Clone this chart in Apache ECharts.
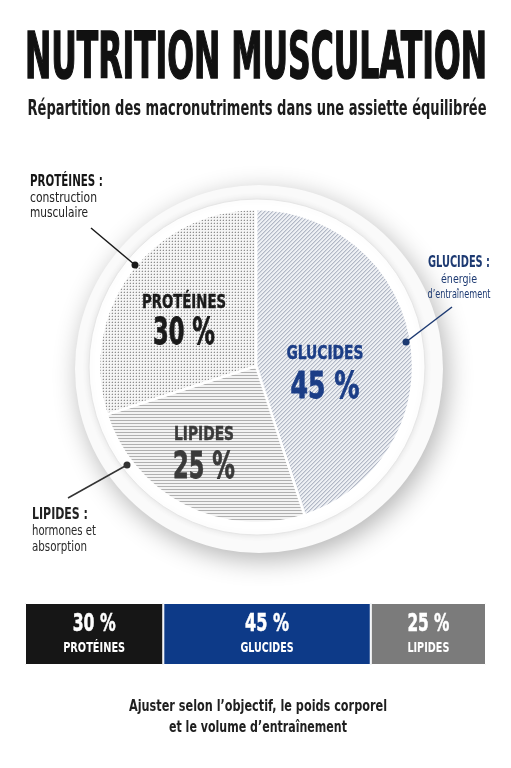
<!DOCTYPE html>
<html>
<head>
<meta charset="utf-8">
<script src="https://cdn.jsdelivr.net/npm/echarts@6/dist/echarts.min.js"></script>
<style>
  html, body { margin: 0; padding: 0; background: #fff; }
  #main { width: 511px; height: 768px; }
</style>
</head>
<body>
<div id="main"></div>
<script>
// données
const pieNames = ['GLUCIDES', 'LIPIDES', 'PROTÉINES']
const pieShares = [45, 25, 30]
const calloutTitles = ['GLUCIDES :', 'LIPIDES :', 'PROTÉINES :']
const calloutLines = [['énergie', 'd’entraînement'], ['hormones et', 'absorption'], ['construction', 'musculaire']]
const barNames = ['PROTÉINES', 'GLUCIDES', 'LIPIDES']
const barShares = [30, 45, 25]
const footerLines = ['Ajuster selon l’objectif, le poids corporel', 'et le volume d’entraînement']

const F = "'Liberation Sans Narrow','DejaVu Sans Condensed','DejaVu Sans',sans-serif"
const NAVY = '#0d3a88'
const INK = '#161616'

// motifs des parts
const pattern = (w, h, bg, draw) => {
  const c = document.createElement('canvas')
  c.width = w
  c.height = h
  const g = c.getContext('2d')
  g.fillStyle = bg
  g.fillRect(0, 0, w, h)
  draw(g)
  return { image: c, repeat: 'repeat' }
}
const px = (g, x, y, col) => { g.fillStyle = col; g.fillRect(x, y, 1, 1) }
const patGlucides = pattern(4, 4, '#eef0f4', g => {
  for (let x = 0; x < 4; x++) {
    for (let y = 0; y < 4; y++) {
      if ((x + y) % 4 === 3) px(g, x, y, '#b2b8c6')
      if ((x + y) % 4 === 0) px(g, x, y, '#d5d9e1')
    }
  }
})
const patLipides = pattern(3, 3, '#f3f3f3', g => {
  for (let x = 0; x < 3; x++) px(g, x, 0, '#b0b0b0')
})
const patProteines = pattern(3, 3, '#f5f5f5', g => {
  px(g, 1, 1, '#8e8e8e')
  px(g, 1, 0, '#d8d8d8')
  px(g, 0, 1, '#d8d8d8')
})
const slicePatterns = [patGlucides, patLipides, patProteines]
const labelColors = ['#1b3d86', '#3a3a3a', '#1a1a1a']
const labelPos = [[325, 354, 388], [204, 435, 468], [184, 303, 334]]
const labelWidths = [[77, 69], [60, 62], [84, 62]]
const barLabelWidths = [[43, 62], [44, 53], [42, 42]]

// texte ajusté à une largeur
const mctx = document.createElement('canvas').getContext('2d')
const txt = (text, x, y, size, weight, color, width, align = 'center', stroke = 0) => {
  const font = weight + ' ' + size + 'px ' + F
  mctx.font = font
  const sx = width ? width / mctx.measureText(text).width : 1
  const style = { text, font, fill: color, align, textAlign: align, verticalAlign: 'middle', textVerticalAlign: 'middle' }
  if (stroke) {
    style.stroke = color
    style.lineWidth = stroke
  }
  return { type: 'text', x, y, z: 100, scaleX: sx, silent: true, style }
}
const leader = (x1, y1, x2, y2, color) => [
  { type: 'line', z: 100, silent: true, shape: { x1, y1, x2, y2 }, style: { stroke: color, lineWidth: 1.5 } },
  { type: 'circle', z: 100, silent: true, shape: { cx: x2, cy: y2, r: 3.5 }, style: { fill: color } }
]

const chart = echarts.init(document.getElementById('main'), null, { renderer: 'canvas' })

const graphics = [
  txt('NUTRITION MUSCULATION', 256, 61, 64, 'bold', '#111', 462, 'center', 1.6),
  txt('Répartition des macronutriments dans une assiette équilibrée', 257, 110, 21, 'bold', '#1c1c1c', 459),
  // légendes extérieures
  txt(calloutTitles[2], 30, 182, 16, 'bold', INK, 73, 'left'),
  txt(calloutLines[2][0], 30, 198, 14, 'normal', '#222', 67, 'left'),
  txt(calloutLines[2][1], 30, 213, 14, 'normal', '#222', 58, 'left'),
  ...leader(91, 228, 135, 265, '#1a1a1a'),
  txt(calloutTitles[0], 459, 263, 15, 'bold', '#1d3a72', 62),
  txt(calloutLines[0][0], 459, 280, 13, 'normal', '#1d3a72', 36),
  txt(calloutLines[0][1], 459, 295, 13, 'normal', '#1d3a72', 63),
  ...leader(452, 307, 406, 342, '#1d3a72'),
  txt(calloutTitles[1], 32, 515, 16, 'bold', '#222', 56, 'left'),
  txt(calloutLines[1][0], 32, 531, 14, 'normal', '#2a2a2a', 64, 'left'),
  txt(calloutLines[1][1], 32, 547, 14, 'normal', '#2a2a2a', 55, 'left'),
  ...leader(68, 498, 127, 465, '#333'),
  txt(footerLines[0], 258, 707, 15, 'bold', '#1f1f1f', 258),
  txt(footerLines[1], 258, 728, 15, 'bold', '#1f1f1f', 178)
]

// étiquettes dans l'assiette
pieShares.forEach((v, i) => {
  const [x, y1, y2] = labelPos[i]
  graphics.push(txt(pieNames[i], x, y1, 19, 'bold', labelColors[i], labelWidths[i][0], 'center', 0.4))
  graphics.push(txt(v + ' %', x, y2, 38, 'bold', labelColors[i], labelWidths[i][1], 'center', 0.8))
})

const option = {
  backgroundColor: '#ffffff',
  animation: false,
  graphic: graphics,
  grid: { left: 25, right: 25, top: 603, height: 62 },
  xAxis: { type: 'value', min: 0, max: 100, show: false },
  yAxis: { type: 'category', data: ['total'], show: false },
  series: [
    // assiette
    {
      type: 'pie', silent: true, center: [259, 369], radius: [0, 184],
      label: { show: false }, labelLine: { show: false },
      itemStyle: { color: '#fafafa', shadowBlur: 26, shadowOffsetX: 4, shadowOffsetY: 7, shadowColor: 'rgba(0,0,0,0.30)' },
      data: [{ value: 1 }]
    },
    {
      type: 'pie', silent: true, center: [257, 367], radius: [0, 168],
      label: { show: false }, labelLine: { show: false },
      itemStyle: { color: '#ffffff', borderColor: '#e6e6e6', borderWidth: 1, shadowBlur: 7, shadowColor: 'rgba(0,0,0,0.10)' },
      data: [{ value: 1 }]
    },
    // macronutriments
    {
      type: 'pie', silent: true, center: [256, 366], radius: [0, 157],
      startAngle: 90, clockwise: true,
      itemStyle: { borderColor: '#ffffff', borderWidth: 2.5 },
      label: { show: false }, labelLine: { show: false },
      data: pieShares.map((v, i) => ({ value: v, name: pieNames[i], itemStyle: { color: slicePatterns[i] } }))
    },
    // barre de répartition
    ...barShares.map((v, i) => ({
      type: 'bar', stack: 'total', silent: true, barWidth: '100%',
      data: [v],
      itemStyle: { color: [INK, NAVY, '#7b7b7b'][i], borderColor: '#ffffff', borderWidth: 1 },
      label: { show: false }
    }))
  ]
}

chart.setOption(option)

// étiquettes de la barre, placées au centre de chaque segment
let cum = 0
barShares.forEach((v, i) => {
  const [cx, cy] = chart.convertToPixel({ gridIndex: 0 }, [cum + v / 2, 0])
  cum += v
  graphics.push(txt(v + ' %', cx, cy - 9, 24, 'bold', '#fff', barLabelWidths[i][0], 'center', 0.5))
  graphics.push(txt(barNames[i], cx, cy + 14, 14, 'bold', '#fff', barLabelWidths[i][1]))
})
chart.setOption({ graphic: graphics })
</script>
</body>
</html>
